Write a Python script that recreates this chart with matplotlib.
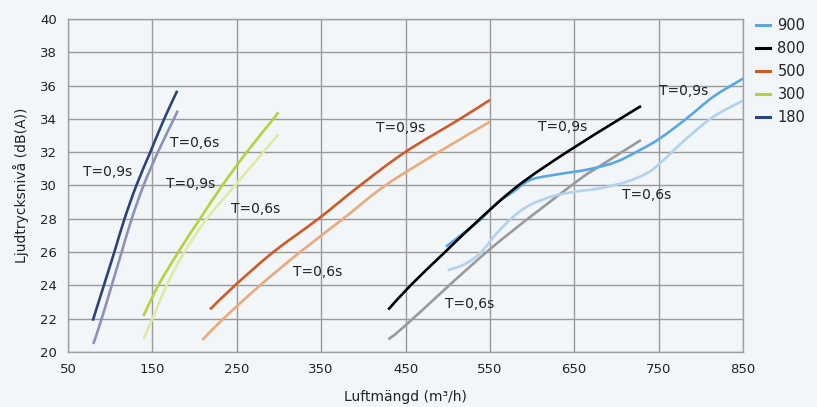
import matplotlib
matplotlib.use("Agg")
import matplotlib.pyplot as plt
from matplotlib.path import Path
from matplotlib.patches import PathPatch

# ---- data ----
x180_09 = [79.3, 92.5, 104.9, 117.0, 131.0, 147.5, 164.0, 179.5]
y180_09 = [21.88, 24.0, 26.0, 28.0, 30.0, 32.0, 34.0, 35.69]
x180_06 = [80.0, 89.9, 101.8, 113.6, 125.5, 139.5, 156.5, 175.5, 180.0]
y180_06 = [20.48, 22.0, 24.0, 26.0, 28.0, 30.0, 32.0, 34.0, 34.49]

x300_09 = [139.3, 157.0, 180.7, 206.4, 232.9, 261.8, 293.4, 299.3]
y300_09 = [22.16, 24.0, 26.0, 28.0, 30.0, 32.0, 34.0, 34.4]
x300_06 = [139.3, 150.0, 167.0, 187.9, 214.4, 247.9, 281.5, 299.3]
y300_06 = [20.76, 22.0, 24.0, 26.0, 28.0, 30.0, 32.0, 33.07]

x500_09 = [218.3, 247.9, 293.3, 346.7, 396.1, 449.4, 514.6, 550.1]
y500_09 = [22.56, 24.0, 26.0, 28.0, 30.0, 32.0, 34.0, 35.14]
x500_06 = [209.2, 234.1, 277.6, 325.0, 376.0, 426.0, 489.0, 550.1]
y500_06 = [20.72, 22.0, 24.0, 26.0, 28.0, 30.0, 32.0, 33.83]

x800_09 = [429.6, 456.0, 496.8, 538.3, 583.7, 641.0, 704.2, 729.1]
y800_09 = [22.55, 24.0, 26.0, 28.0, 30.0, 32.0, 34.0, 34.77]
x800_06 = [429.6, 450.0, 550.0, 650.0, 680.5, 729.1]
y800_06 = [20.76, 21.6, 26.17, 30.13, 31.17, 32.73]

x900_09 = [498.0, 518.5, 538.3, 558.1, 577.8, 597.6, 625.2, 650.9, 672.6,
           700.3, 727.9, 751.6, 783.3, 814.8, 850.0]
y900_09 = [26.33, 27.13, 27.93, 28.93, 29.63, 30.33, 30.63, 30.83, 31.03,
           31.43, 32.13, 32.83, 34.03, 35.33, 36.42]
x900_06 = [500.0, 518.5, 538.3, 558.1, 577.8, 597.6, 625.2, 650.9, 680.5,
           712.2, 735.9, 751.6, 783.3, 814.8, 850.0]
y900_06 = [24.92, 25.23, 25.93, 27.13, 28.13, 28.83, 29.37, 29.63, 29.83,
           30.23, 30.73, 31.33, 32.83, 34.13, 35.1]

legend_labels = ["900", "800", "500", "300", "180"]
xticks = [50, 150, 250, 350, 450, 550, 650, 750, 850]
yticks = [20, 22, 24, 26, 28, 30, 32, 34, 36, 38, 40]

labels_text = ["T=0,9s", "T=0,6s", "T=0,9s", "T=0,6s", "T=0,9s",
               "T=0,6s", "T=0,9s", "T=0,6s", "T=0,9s", "T=0,6s"]
labels_x = [67.8, 170.9, 166.1, 243, 415, 316.7, 607, 496.8, 750.4, 706.6]
labels_y = [30.8, 32.55, 30.1, 28.6, 33.45, 24.8, 33.5, 22.9, 35.7, 29.4]


def smooth_path(xs, ys):
    """Smoothed line (like a spreadsheet 'smoothed line') through the points."""
    pts = list(zip(xs, ys))
    n = len(pts)
    verts = [pts[0]]
    codes = [Path.MOVETO]
    for i in range(n - 1):
        p0 = pts[i - 1] if i > 0 else pts[i]
        p1 = pts[i]
        p2 = pts[i + 1]
        p3 = pts[i + 2] if i + 2 < n else pts[i + 1]
        c1 = (p1[0] + (p2[0] - p0[0]) / 6.0, p1[1] + (p2[1] - p0[1]) / 6.0)
        c2 = (p2[0] - (p3[0] - p1[0]) / 6.0, p2[1] - (p3[1] - p1[1]) / 6.0)
        verts += [c1, c2, p2]
        codes += [Path.CURVE4] * 3
    return Path(verts, codes)


# ---- plot ----
bg = "#f2f6f8"
fig = plt.figure(figsize=(8.17, 4.07), dpi=100, facecolor=bg)
ax = fig.add_axes([68/817, 1-352/407, (743-68)/817, (352-19)/407])
ax.set_facecolor(bg)

lw = 1.9
series = [
    (x180_06, y180_06, "#8a92ba"),
    (x180_09, y180_09, "#2b4579"),
    (x300_06, y300_06, "#e0eaa4"),
    (x300_09, y300_09, "#b7d23c"),
    (x500_06, y500_06, "#eaaa7c"),
    (x500_09, y500_09, "#cf5a28"),
    (x800_06, y800_06, "#9a9a9a"),
    (x900_06, y900_06, "#b4d2f0"),
    (x900_09, y900_09, "#5aa8e2"),
    (x800_09, y800_09, "#000000"),
]
for xs, ys, c in series:
    patch = PathPatch(smooth_path(xs, ys), facecolor="none", edgecolor=c,
                      lw=lw, capstyle="butt", joinstyle="round", zorder=2)
    ax.add_patch(patch)

# legend proxies
handles = []
for c in ["#5aa8e2", "#000000", "#cf5a28", "#b7d23c", "#2b4579"]:
    h, = ax.plot([], [], color=c, lw=2.2)
    handles.append(h)
leg = ax.legend(handles, legend_labels, loc="upper left", bbox_to_anchor=(1.01, 1.02),
                frameon=False, fontsize=10.5, handlelength=1.0, handletextpad=0.5,
                labelspacing=0.55, borderaxespad=0.0)
for t in leg.get_texts():
    t.set_color("#222222")

for t, x, y in zip(labels_text, labels_x, labels_y):
    ax.text(x, y, t, fontsize=10, color="#222222", va="center", ha="left")

ax.set_xlim(50, 850)
ax.set_ylim(20, 40)
ax.set_xticks(xticks)
ax.set_yticks(yticks)
ax.grid(True, color="#9a9a9a", lw=1.0)
ax.set_axisbelow(True)
for s in ax.spines.values():
    s.set_color("#a0a0a0")
    s.set_linewidth(1.0)
ax.tick_params(length=0, labelsize=9.5, colors="#222222", pad=8)
ax.set_xlabel("Luftmängd (m³/h)", fontsize=10, color="#222222", labelpad=10)
ax.set_ylabel("Ljudtrycksnivå (dB(A))", fontsize=10, color="#222222", labelpad=8)

fig.savefig("out.png", dpi=100, facecolor=bg)
